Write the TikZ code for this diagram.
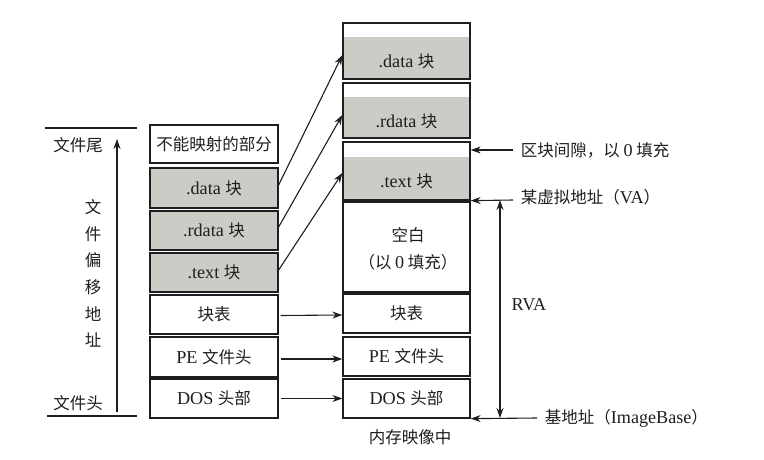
\documentclass[tikz,border=0pt]{standalone}
\usepackage{fontspec}
\setmainfont{Liberation Serif}[Scale=1.1]
\newfontfamily\cjk{Noto Sans CJK SC}
\usetikzlibrary{arrows.meta}
\definecolor{blockgray}{RGB}{204,204,198}
\definecolor{ink}{RGB}{30,30,30}
\begin{document}
\begin{tikzpicture}[x=1pt,y=-1pt,
  every node/.style={font=\fontsize{16.5}{19}\selectfont, text=ink},
  box/.style={draw=ink, line width=1.3pt, inner sep=0pt, minimum width=128pt},
  grayfill/.style={fill=blockgray},
  arr/.style={draw=ink, line width=1.1pt, -{Stealth[length=10pt,width=7pt]}},
  dblarr/.style={draw=ink, line width=1.1pt, {Stealth[length=10pt,width=7pt]}-{Stealth[length=10pt,width=7pt]}},
  rule/.style={draw=ink, line width=1.3pt}
]
\useasboundingbox (0,0) rectangle (764,460);

% ---------- left column (file) ----------
\node[box, minimum height=38pt] (L0) at (214,144) {\cjk 不能映射的部分};
\node[box, grayfill, minimum height=40pt] (L1) at (214,188) {.data \cjk 块};
\node[box, grayfill, minimum height=39pt] (L2) at (214,230.5) {.rdata \cjk 块};
\node[box, grayfill, minimum height=39pt] (L3) at (214,272.5) {.text \cjk 块};
\node[box, minimum height=39pt] (L4) at (214,314.5) {\cjk 块表};
\node[box, minimum height=40pt] (L5) at (214,357) {PE {\cjk 文件头}};
\node[box, minimum height=39pt] (L6) at (214,398.5) {DOS {\cjk 头部}};

% left scale
\coordinate (tl1) at (45,128);
\coordinate (tl2) at (137,128);
\coordinate (bl1) at (47,416);
\coordinate (bl2) at (137,416);
\draw[rule] (tl1) -- (tl2);
\draw[rule] (bl1) -- (bl2);
\coordinate (va1) at (117,412);
\coordinate (va2) at (117,139);
\draw[arr] (va1) -- (va2);
\node (ftail) at (78,145) {\cjk 文件尾};
\node (fhead) at (78,403) {\cjk 文件头};
\node[align=center, inner sep=0pt, font=\fontsize{16.5}{26.6}\selectfont\cjk] (foff) at (93,273.5)
  {文\\件\\偏\\移\\地\\址};

% ---------- right column (memory) ----------
\fill[blockgray] (343,37) rectangle (470,79);
\fill[blockgray] (343,97) rectangle (470,138);
\fill[blockgray] (343,157) rectangle (470,200);
\node[box, minimum width=127pt, minimum height=56pt] (R1) at (406.5,51) {};
\node[box, minimum width=127pt, minimum height=55pt] (R2) at (406.5,110.5) {};
\node[box, minimum width=127pt, minimum height=58pt] (R3) at (406.5,171) {};
\node (R1t) at (406.5,61) {.data \cjk 块};
\node (R2t) at (406.5,121) {.rdata \cjk 块};
\node (R3t) at (406.5,181) {.text \cjk 块};
\node[box, minimum width=127pt, minimum height=90pt] (R4) at (406.5,247) {};
\node (R4a) at (408,235) {\cjk 空白};
\node (R4b) at (408,262) {\cjk （以 {\rmfamily 0} 填充）};
\node[box, minimum width=127pt, minimum height=39pt] (R5) at (406.5,313.5) {\cjk 块表};
\node[box, minimum width=127pt, minimum height=39pt] (R6) at (406.5,356.5) {PE {\cjk 文件头}};
\node[box, minimum width=127pt, minimum height=39pt] (R7) at (406.5,398.5) {DOS {\cjk 头部}};
\node (mem) at (410,437) {\cjk 内存映像中};

% ---------- mapping arrows ----------
\draw[arr] ([yshift=3pt]L1.east) -- ([yshift=-4pt]R1.west);
\draw[arr] ([yshift=3.5pt]L2.east) -- ([yshift=-4.5pt]R2.west);
\draw[arr] ([yshift=2.5pt]L3.east) -- ([yshift=-2pt]R3.west);
\draw[arr] ([xshift=2pt,yshift=-1pt]L4.east) -- ([yshift=-1.5pt]R5.west);
\draw[arr] ([xshift=2pt,yshift=-2pt]L5.east) -- ([yshift=-2.5pt]R6.west);
\draw[arr] ([xshift=2pt]L6.east) -- (R6.west |- L6.east);

% ---------- right annotations ----------
\coordinate (gapS) at (513,150);
\coordinate (vaS) at (513,200);
\coordinate (baseS) at (537,418);
\coordinate (rvaT) at (500,200);
\coordinate (rvaB) at (500,418);
\draw[arr] (gapS) -- (R3.east |- gapS);
\draw[arr] (vaS) -- (R3.south east);
\draw[arr] (baseS) -- (R7.south east);
\draw[dblarr] (rvaB) -- (rvaT);
\node[anchor=west] (gapT) at (517,150) {\cjk 区块间隙，以 {\rmfamily 0} 填充};
\node[anchor=west] (vaT) at (517,197) {\cjk 某虚拟地址（{\rmfamily VA}）};
\node[anchor=west] (baseT) at (541,418) {\cjk 基地址（{\rmfamily ImageBase}）};
\node (rvaL) at (529,305) {RVA};
\end{tikzpicture}
\end{document}
